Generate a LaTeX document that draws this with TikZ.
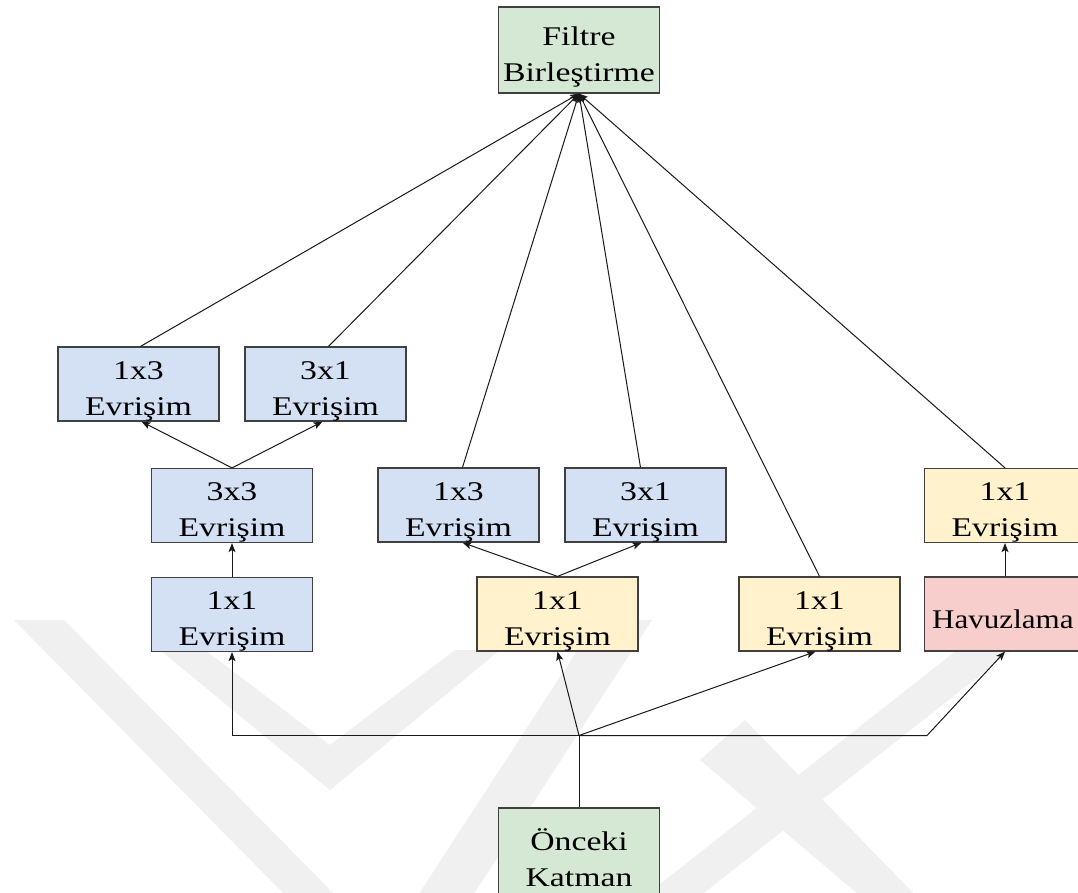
\documentclass[tikz,border=0pt]{standalone}
\usepackage{fontspec}
\setmainfont{Liberation Serif}[FakeStretch=1.25]
\usetikzlibrary{arrows.meta,calc}

\definecolor{boxblue}{HTML}{D4E1F5}
\definecolor{boxyellow}{HTML}{FFF2CC}
\definecolor{boxgreen}{HTML}{D5E8D4}
\definecolor{boxred}{HTML}{F8CECC}
\definecolor{wmgray}{HTML}{F0F0F0}

\tikzset{
  txt/.style={align=center, inner sep=0pt, font=\fontsize{27}{36}\selectfont},
  layer/.style={draw=black!75, line width=1.2pt, minimum width=161pt, minimum height=74pt,
    inner sep=0pt},
  conv/.style={layer, fill=boxblue},
  reduce/.style={layer, fill=boxyellow},
  pool/.style={layer, fill=boxred},
  io/.style={layer, fill=boxgreen, minimum height=86pt},
  caption/.style={label={[txt, yshift=-7pt]center:{#1}}},
  link/.style={draw=black!90, line width=1pt},
  flow/.style={link, -{Stealth[length=9pt,width=7pt,inset=2pt]}},
}

\begin{document}
\begin{tikzpicture}[x=1pt,y=-1pt]
  \useasboundingbox (0,0) rectangle (1078,892);
  \fill[white] (0,0) rectangle (1078,892);

  % faint background mark
  \begin{scope}
    \clip (0,0) rectangle (1078,892);
    \fill[wmgray] (14,620) -- (64,620) -- (340,900) -- (290,900) -- cycle;
    \fill[wmgray] (597,620) -- (652,620) -- (470,900) -- (415,900) -- cycle;
    \fill[wmgray] (160,650) -- (205,650) -- (330,745) -- (455,650) -- (500,650) -- (330,790) -- cycle;
    \fill[wmgray] (700,760) -- (745,720) -- (920,900) -- (865,900) -- cycle;
    \fill[wmgray] (640,900) -- (995,620) -- (1050,620) -- (695,900) -- cycle;
  \end{scope}

  % layers
  \node[io, caption={Filtre\\Birleştirme}] (filtre) at (579,50) {};
  \node[conv, caption={1x3\\Evrişim}]   (a13)   at (138.5,384) {};
  \node[conv, caption={3x1\\Evrişim}]   (a31)   at (325.5,384) {};
  \node[conv, caption={3x3\\Evrişim}]   (a33)   at (232,505.5) {};
  \node[conv, caption={1x3\\Evrişim}]   (b13)   at (458.5,505) {};
  \node[conv, caption={3x1\\Evrişim}]   (b31)   at (645.5,505) {};
  \node[reduce, caption={1x1\\Evrişim}] (d11)   at (1005,505.5) {};
  \node[conv, caption={1x1\\Evrişim}]   (a11)   at (232,614.5) {};
  \node[reduce, caption={1x1\\Evrişim}] (b11)   at (557.5,614) {};
  \node[reduce, caption={1x1\\Evrişim}] (c11)   at (819.5,614) {};
  \node[pool]                           (havuz) at (1005,614) {};
  \node[txt, anchor=west] (havuztxt) at ([xshift=-73pt, yshift=-5pt]havuz.center) {\scalebox{0.92}[1]{Havuzlama}};
  \node[io, caption={Önceki\\Katman}]   (onceki) at (579,851) {};

  % input bus
  \coordinate (J) at (579,735.5);
  \coordinate (L) at (232,735.5);
  \coordinate (R) at (927,735.5);
  \draw[link] (onceki.north) -- (J);
  \draw[flow] (J) -- (L) -- (a11.south);
  \draw[flow] (J) -- (b11.south);
  \draw[flow] (J) -- ([xshift=-4pt]c11.south);
  \draw[flow] (J) -- (R) -- (havuz.south);

  % inner branches
  \draw[flow] (a11.north) -- (a33.south);
  \draw[flow] (a33.north) -- ([xshift=3pt]a13.south);
  \draw[flow] (a33.north) -- ([xshift=-3pt]a31.south);
  \draw[flow] (b11.north) -- ([xshift=4pt]b13.south);
  \draw[flow] (b11.north) -- ([xshift=-4pt]b31.south);
  \draw[flow] (havuz.north) -- (d11.south);

  % concatenation
  \draw[flow] ([xshift=2pt]a13.north) -- (filtre.south);
  \draw[flow] ([xshift=3pt]a31.north) -- (filtre.south);
  \draw[flow] ([xshift=4pt]b13.north) -- (filtre.south);
  \draw[flow] ([xshift=-5pt]b31.north) -- (filtre.south);
  \draw[flow] (c11.north) -- (filtre.south);
  \draw[flow] (d11.north) -- (filtre.south);
\end{tikzpicture}
\end{document}
